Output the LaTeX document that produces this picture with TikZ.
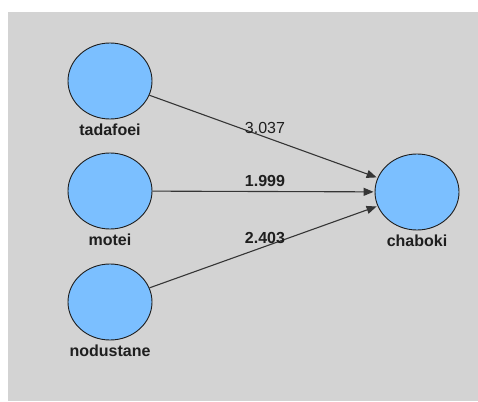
\documentclass[tikz,border=0pt]{standalone}
\usepackage{fontspec}
\setmainfont{Liberation Sans}
\usepackage{tikz}
\usetikzlibrary{arrows.meta,positioning,shapes.geometric}
\definecolor{panel}{RGB}{211,211,211}
\definecolor{latent}{RGB}{123,191,255}
\definecolor{ink}{RGB}{30,30,30}
\tikzset{font=\fontsize{16}{18}\selectfont}
\tikzset{latentvar/.style={ellipse, draw=ink, line width=0.9pt, fill=latent,
    minimum width=84pt, minimum height=76pt, inner sep=0pt}}
\tikzset{varname/.style={font=\fontsize{16}{18}\selectfont\bfseries, text=ink, inner sep=0pt}}
\tikzset{pathval/.style={inner sep=0pt, text=ink}}
\tikzset{pathline/.style={draw=ink!90, line width=1.1pt,
    -{Triangle[length=10pt,width=8pt]}, shorten >=1pt}}

\begin{document}
\begin{tikzpicture}[x=1pt,y=-1pt]
  \useasboundingbox (0,0) rectangle (478,401);
  \fill[white] (0,0) rectangle (478,401);
  \fill[panel] (8,12) rectangle (478,401);

  \node[latentvar] (tadafoei) at (110,81) {};
  \node[latentvar] (motei) at (110,191) {};
  \node[latentvar] (nodustane) at (110,302) {};
  \node[latentvar] (chaboki) at (417,192) {};

  \node[varname, below=4pt of tadafoei] (tadafoeiT) {tadafoei};
  \node[varname, below=4pt of motei] (moteiT) {motei};
  \node[varname, below=4pt of nodustane] (nodustaneT) {nodustane};
  \node[varname, below=4pt of chaboki] (chabokiT) {chaboki};

  \draw[pathline] (tadafoei) -- (chaboki);
  \draw[pathline] (motei) -- (chaboki);
  \draw[pathline] (nodustane) -- (chaboki);

  \node[pathval] (w1) at (265,128) {3.037};
  \node[pathval, font=\fontsize{16}{18}\selectfont\bfseries] (w2) at (265,181) {1.999};
  \node[pathval, font=\fontsize{16}{18}\selectfont\bfseries] (w3) at (265,238) {2.403};
\end{tikzpicture}
\end{document}
